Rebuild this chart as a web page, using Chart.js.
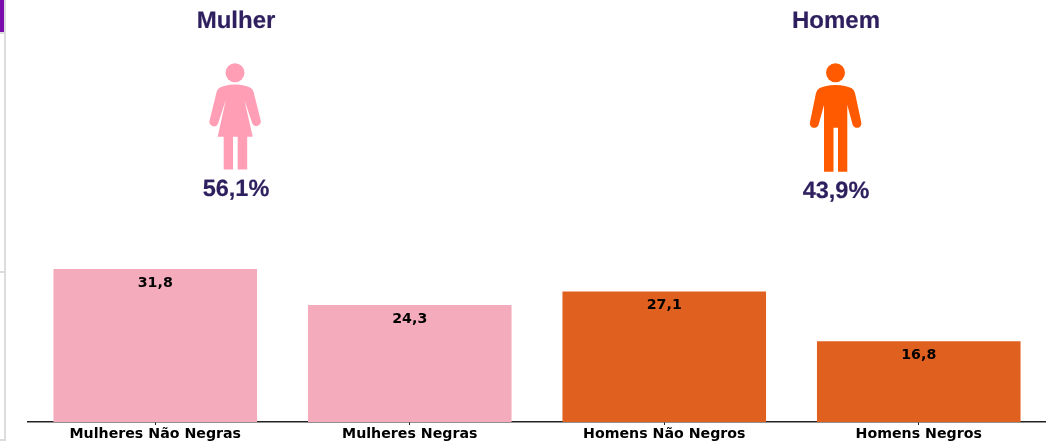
<!DOCTYPE html>
<html lang="pt">
<head>
<meta charset="utf-8">
<title>Mulher e Homem</title>
<script src="https://cdn.jsdelivr.net/npm/chart.js@4"></script>
<style>
  html, body { margin: 0; padding: 0; background: #fff; }
  #wrap { position: relative; width: 1046px; height: 444px; overflow: hidden; }
  #barChart { position: absolute; left: 0; top: 0; }
  .edge { position: absolute; background: #dcdcdc; }
  .panel-text {
    position: absolute; width: 200px; text-align: center; white-space: nowrap;
    font-family: "Liberation Sans", Arial, sans-serif; font-weight: bold; color: #2e1f5e;
    text-rendering: geometricPrecision;
    -webkit-text-stroke: 0.2px #2e1f5e;
  }
  svg.icons { position: absolute; left: 0; top: 0; }
</style>
</head>
<body>
<div id="wrap">
  <!-- restos da moldura à esquerda -->
  <div class="edge" style="left:4px;top:0;width:2px;height:441px"></div>
  <div class="edge" style="left:0;top:32px;width:6px;height:2px"></div>
  <div class="edge" style="left:0;top:271px;width:5px;height:2px"></div>
  <div class="edge" style="left:0;top:439px;width:6px;height:2px"></div>
  <div style="position:absolute;left:0;top:0;width:4px;height:32px;background:#7a0dab"></div>

  <canvas id="barChart" width="1046" height="444"></canvas>

  <svg class="icons" width="1046" height="444">
    <g fill="#ff9eb5">
      <circle cx="235" cy="72.7" r="9.5"/>
      <path d="M235 84.5 Q225 84.7 219.5 87.8 Q217.3 89.3 216.6 92 L209.6 120.5 A4.5 4.5 0 0 0 218 123.7 L225.8 100 L217.7 136.7 H223.7 V169.5 H233 V136.7 H237.7 V169.5 H247.2 V136.7 H252.7 L244.4 100 L252.4 123.7 A4.5 4.5 0 0 0 260.7 120.5 L253.6 92 Q252.8 89.3 250.6 87.8 Q245 84.7 235 84.5 Z"/>
    </g>
    <g fill="#ff5a00">
      <circle cx="835.5" cy="72.7" r="9.5"/>
      <path d="M835.5 85 Q825 85.2 819.3 88.3 Q816.8 89.8 816 93 L810 122 A4.5 4.5 0 0 0 818.6 124.7 L824 105 V171.7 H833.5 V127.7 H838 V171.7 H847.3 V105 L852.6 124.7 A4.5 4.5 0 0 0 861.2 122 L855 93 Q854.2 89.8 851.7 88.3 Q846 85.2 835.5 85 Z"/>
    </g>
  </svg>

  <div class="panel-text" style="left:136px;top:7px;font-size:24px">Mulher</div>
  <div class="panel-text" style="left:736px;top:7px;font-size:24px">Homem</div>
  <div class="panel-text" style="left:136px;top:175px;font-size:23.5px">56,1%</div>
  <div class="panel-text" style="left:736px;top:177px;font-size:23.5px">43,9%</div>
</div>

<script>
// Dados do gráfico
const categorias = ["Mulheres Não Negras", "Mulheres Negras", "Homens Não Negros", "Homens Negros"];
const valores = [31.8, 24.3, 27.1, 16.8];
const cores = ["#f4abbc", "#f4abbc", "#e06020", "#e06020"];

// Escreve o valor dentro da barra, com vírgula decimal
const rotulosBarras = {
  id: "rotulosBarras",
  afterDatasetsDraw(chart) {
    const ctx = chart.ctx;
    const barras = chart.getDatasetMeta(0).data;
    ctx.save();
    ctx.font = "bold 14.2px 'DejaVu Sans'";
    ctx.fillStyle = "#000";
    ctx.textAlign = "center";
    ctx.textBaseline = "middle";
    barras.forEach((barra, i) => {
      ctx.fillText(valores[i].toFixed(1).replace(".", ","), barra.x, barra.y + 14);
    });
    ctx.restore();
  },
};

new Chart(document.getElementById("barChart"), {
  type: "bar",
  data: {
    labels: categorias,
    datasets: [
      {
        data: valores,
        backgroundColor: cores,
        categoryPercentage: 0.8,
        barPercentage: 1,
      },
    ],
  },
  plugins: [rotulosBarras],
  options: {
    responsive: false,
    animation: false,
    layout: { padding: { left: 28, right: 0, top: 37, bottom: 0 } },
    plugins: { legend: { display: false }, tooltip: { enabled: false } },
    scales: {
      x: {
        afterFit(scale) {
          scale.height = 22;
        },
        grid: { offset: false, drawOnChartArea: false, drawTicks: true, tickLength: 3, color: "#222" },
        border: { display: true, color: "#222", width: 1.5 },
        ticks: {
          color: "#000",
          padding: 1,
          maxRotation: 0,
          font: { family: "'DejaVu Sans'", weight: "bold", size: 14.2 },
        },
      },
      y: { display: false, min: 0, max: 80 },
    },
  },
});
</script>
</body>
</html>
